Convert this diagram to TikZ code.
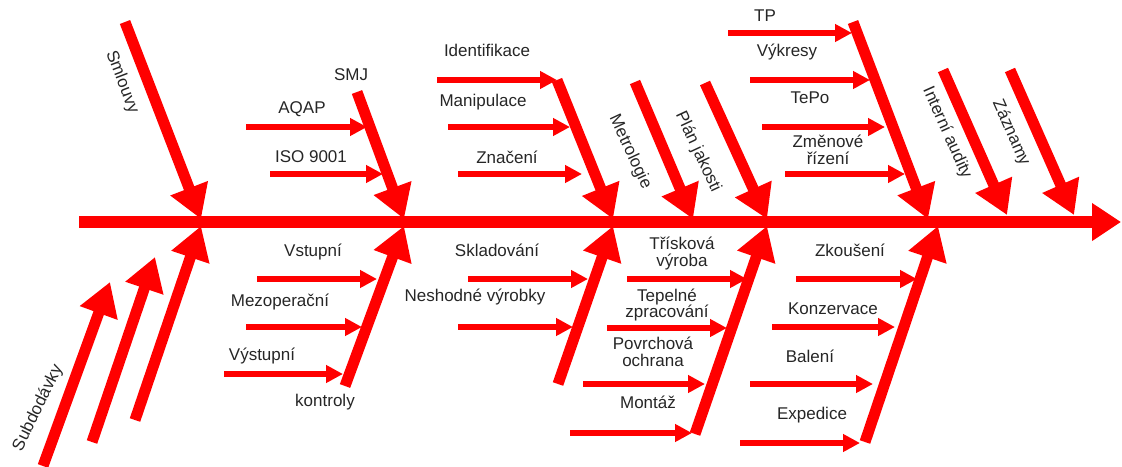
\documentclass[tikz,border=0pt]{standalone}
\usepackage{fontspec}
\setmainfont{Liberation Sans}
\usetikzlibrary{arrows.meta}
\definecolor{bonered}{HTML}{FF0000}
\definecolor{labelgray}{HTML}{262626}
\tikzset{
  spine/.style={draw=bonered, line width=12pt, -{Triangle[length=29pt,width=36pt]}},
  bone/.style={draw=bonered, line width=11pt, -{Triangle[length=33pt,width=38pt]}},
  sub/.style={draw=bonered, line width=5.5pt, -{Triangle[length=17pt,width=17pt]}},
  lab/.style={font=\fontsize{17}{17}\selectfont, text=labelgray, inner sep=0pt, align=center},
}
\begin{document}
\begin{tikzpicture}[x=1pt, y=-1pt]
\useasboundingbox (0,0) rectangle (1122,466);

% ---- main spine ----
\coordinate (s0) at (79,222);
\coordinate (s1) at (1121,222);
\draw[spine] (s0) -- (s1);

% ---- upper bones ----
\coordinate (u1a) at (125,22);   \coordinate (u1b) at (201,219);
\coordinate (u2a) at (357,92);   \coordinate (u2b) at (404,219);
\coordinate (u3a) at (557,80);   \coordinate (u3b) at (613,219);
\coordinate (u4a) at (635,82);   \coordinate (u4b) at (693,219);
\coordinate (u5a) at (705,83);   \coordinate (u5b) at (767,219);
\coordinate (u6a) at (853,22);   \coordinate (u6b) at (928,219);
\coordinate (u7a) at (943,70);   \coordinate (u7b) at (1007,215);
\coordinate (u8a) at (1010,70);  \coordinate (u8b) at (1074,215);
\foreach \b in {1,...,8} \draw[bone] (u\b a) -- (u\b b);

% ---- lower bones ----
\coordinate (l1a) at (43,466);   \coordinate (l1b) at (110,282);
\coordinate (l2a) at (92,442);   \coordinate (l2b) at (155,257);
\coordinate (l3a) at (135,420);  \coordinate (l3b) at (201,226);
\coordinate (l4a) at (345,386);  \coordinate (l4b) at (404,226);
\coordinate (l5a) at (558,384);  \coordinate (l5b) at (613,226);
\coordinate (l6a) at (695,434);  \coordinate (l6b) at (767,226);
\coordinate (l7a) at (865,442);  \coordinate (l7b) at (938,226);
\foreach \b in {1,...,7} \draw[bone] (l\b a) -- (l\b b);

% ---- small arrows into the bones ----
\foreach \n/\xa/\xb/\y in {
  aqap/246/367/127, iso/270/383/174,
  ident/437/557/80, manip/448/570/127, znac/458/582/174,
  tp/728/852/33, vyk/750/870/80, tepo/762/885/127, zmen/785/905/174,
  vst/257/377/279, mezo/246/362/327, vyst/224/343/374,
  sklad/468/588/279, nesh/458/573/327,
  trisk/627/747/279, tepel/607/727/328, povr/583/705/384, mont/570/692/433,
  zkou/796/917/279, konz/772/895/327, bal/750/873/384, exp/740/860/443} {
  \coordinate (\n-s) at (\xa,\y);
  \coordinate (\n-e) at (\xb,\y);
  \draw[sub] (\n-s) -- (\n-e);
}

% ---- labels ----
\node[lab, rotate=-69] (tSml) at (122,82) {Smlouvy};
\node[lab] (tSMJ) at (351,75) {SMJ};
\node[lab] (tAQAP) at (302,109) {AQAP};
\node[lab] (tISO) at (311,157) {ISO 9001};
\node[lab] (tIdent) at (487,50) {Identifikace};
\node[lab] (tManip) at (483,102) {Manipulace};
\node[lab] (tZnac) at (507,157) {Značení};
\node[lab, rotate=-65] (tMetr) at (630,152) {Metrologie};
\node[lab, rotate=-65] (tPlan) at (698,152) {Plán jakosti};
\node[lab] (tTP) at (765,16) {TP};
\node[lab] (tVyk) at (787,52) {Výkresy};
\node[lab] (tTePo) at (810,98) {TePo};
\node[lab] (tZmen) at (828,150) {Změnové\\řízení};
\node[lab, rotate=-66] (tInt) at (947,133) {Interní audity};
\node[lab, rotate=-66] (tZazn) at (1011,133) {Záznamy};

\node[lab, rotate=64] (tSub) at (38,408) {Subdodávky};
\node[lab] (tVst) at (313,252) {Vstupní};
\node[lab] (tMezo) at (280,302) {Mezoperační};
\node[lab] (tVyst) at (262,356) {Výstupní};
\node[lab] (tKontr) at (325,402) {kontroly};
\node[lab] (tSklad) at (497,250) {Skladování};
\node[lab] (tNesh) at (475,297) {Neshodné výrobky};
\node[lab] (tTrisk) at (682,254) {Třísková\\výroba};
\node[lab] (tTepel) at (667,305) {Tepelné\\zpracování};
\node[lab] (tPovr) at (653,352) {Povrchová\\ochrana};
\node[lab] (tMont) at (648,402) {Montáž};
\node[lab] (tZkou) at (850,250) {Zkoušení};
\node[lab] (tKonz) at (833,309) {Konzervace};
\node[lab] (tBal) at (810,356) {Balení};
\node[lab] (tExp) at (812,415) {Expedice};
\end{tikzpicture}
\end{document}
